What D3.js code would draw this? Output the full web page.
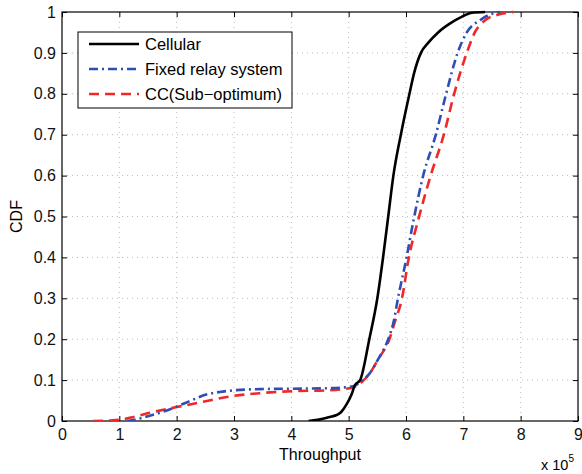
<!DOCTYPE html>
<html><head><meta charset="utf-8">
<script src="https://cdn.jsdelivr.net/npm/d3@7"></script>
<style>body{margin:0;background:#fff}svg{display:block}text{font-family:"Liberation Sans",Arial,sans-serif}</style>
</head><body>
<svg id="c" width="582" height="474"></svg>
<script>
// Throughput (x 10^5) and CDF values
const cellularX = [4.30,4.50,4.67,4.78,4.87,4.96,5.05,5.11,5.20,5.36,5.50,5.60,5.69,5.78,5.91,6.06,6.14,6.26,6.39,6.56,6.77,6.97,7.15,7.38];
const cellularY = [0.000,0.004,0.010,0.014,0.022,0.040,0.065,0.088,0.100,0.200,0.300,0.400,0.500,0.600,0.700,0.800,0.850,0.900,0.925,0.950,0.972,0.988,0.998,1.000];
const relayX = [1.13,1.30,1.53,1.75,2.00,2.25,2.50,2.75,3.00,3.45,4.03,4.62,5.08,5.20,5.37,5.51,5.69,5.78,5.86,6.01,6.13,6.30,6.52,6.70,6.90,7.06,7.29,7.45,7.64];
const relayY = [0.000,0.004,0.013,0.022,0.035,0.050,0.064,0.071,0.075,0.078,0.079,0.080,0.085,0.095,0.117,0.150,0.200,0.240,0.300,0.400,0.490,0.600,0.700,0.800,0.900,0.950,0.980,0.993,1.000];
const ccX = [0.54,0.80,1.01,1.25,1.53,2.00,2.46,2.98,3.45,4.03,4.62,5.08,5.20,5.37,5.51,5.71,5.80,5.93,6.05,6.21,6.43,6.66,6.84,7.06,7.20,7.38,7.60,7.87];
const ccY = [0.000,0.001,0.003,0.010,0.020,0.034,0.047,0.061,0.068,0.073,0.075,0.082,0.092,0.117,0.150,0.200,0.240,0.300,0.400,0.490,0.600,0.700,0.800,0.900,0.950,0.980,0.993,1.000];
const xTicks = [0,1,2,3,4,5,6,7,8,9];
const yTicks = [0,0.1,0.2,0.3,0.4,0.5,0.6,0.7,0.8,0.9,1];
const seriesNames = ["Cellular","Fixed relay system","CC(Sub\u2212optimum)"];
const seriesColors = ["#000000","#2e4db5","#f02828"];
const seriesDash = [null,"9,4,2,4","10,6"];

const svg = d3.select("#c");
const L=62,R=578,T=12,B=421;
const x = d3.scaleLinear().domain([0,9]).range([L,R]);
const y = d3.scaleLinear().domain([0,1]).range([B,T]);

// grid
const g = svg.append("g");
g.selectAll(".gx").data(xTicks.slice(1,-1)).enter().append("line")
 .attr("x1",d=>x(d)).attr("x2",d=>x(d)).attr("y1",T).attr("y2",B)
 .attr("stroke","#bbb").attr("stroke-width",1).attr("stroke-dasharray","1,4");
g.selectAll(".gy").data(yTicks.slice(1,-1)).enter().append("line")
 .attr("y1",d=>y(d)).attr("y2",d=>y(d)).attr("x1",L).attr("x2",R)
 .attr("stroke","#bbb").attr("stroke-width",1).attr("stroke-dasharray","1,4");

// axes
const fmtY = d=> d===0?"0":d===1?"1":d3.format(".1f")(d);
const xAxis = d3.axisBottom(x).tickValues(xTicks).tickSize(-5).tickPadding(8).tickFormat(d3.format("d"));
const yAxis = d3.axisLeft(y).tickValues(yTicks).tickSize(-5).tickPadding(6).tickFormat(fmtY);
const ax = svg.append("g").attr("transform",`translate(0,${B})`).call(xAxis);
const ay = svg.append("g").attr("transform",`translate(${L},0)`).call(yAxis);
const axT = svg.append("g").attr("transform",`translate(0,${T})`).call(d3.axisTop(x).tickValues(xTicks).tickSize(-5).tickFormat(""));
const ayR = svg.append("g").attr("transform",`translate(${R},0)`).call(d3.axisRight(y).tickValues(yTicks).tickSize(-5).tickFormat(""));
[ax,ay,axT,ayR].forEach(a=>{a.select(".domain").remove();a.selectAll("line").attr("stroke","#000");
  a.selectAll("text").attr("font-size",16).attr("fill","#111").attr("font-family","Liberation Sans, Arial, sans-serif");});
svg.append("rect").attr("x",L).attr("y",T).attr("width",R-L).attr("height",B-T)
 .attr("fill","none").attr("stroke","#000").attr("stroke-width",1.2);

// lines
const line = d3.line().x(d=>x(d[0])).y(d=>y(d[1])).curve(d3.curveMonotoneX);
const data = [d3.zip(cellularX,cellularY), d3.zip(relayX,relayY), d3.zip(ccX,ccY)];
svg.append("clipPath").attr("id","cp").append("rect").attr("x",L).attr("y",T-2).attr("width",R-L).attr("height",B-T+2);
[2,1,0].forEach(i=>{
  svg.append("path").datum(data[i]).attr("d",line).attr("fill","none")
   .attr("stroke",seriesColors[i]).attr("stroke-width",2.6)
   .attr("stroke-dasharray",seriesDash[i]).attr("clip-path","url(#cp)");
});

// labels
svg.append("text").attr("x",(L+R)/2).attr("y",460).attr("text-anchor","middle").attr("font-size",16).text("Throughput");
svg.append("text").attr("transform",`translate(22,${(T+B)/2}) rotate(-90)`).attr("text-anchor","middle").attr("font-size",16).text("CDF");
const ex = svg.append("text").attr("x",541).attr("y",470).attr("font-size",14.5);
ex.append("tspan").text("x 10");
ex.append("tspan").attr("dy",-8).attr("font-size",10).text("5");

// legend
const lg = svg.append("g");
lg.append("rect").attr("x",78).attr("y",32).attr("width",214).attr("height",76).attr("fill","#fff").attr("stroke","#000").attr("stroke-width",1);
seriesNames.forEach((n,i)=>{
  const yy = 44 + i*25;
  lg.append("line").attr("x1",89).attr("x2",139).attr("y1",yy).attr("y2",yy)
   .attr("stroke",seriesColors[i]).attr("stroke-width",2.6).attr("stroke-dasharray",seriesDash[i]);
  lg.append("text").attr("x",145).attr("y",yy+6).attr("font-size",16.5).text(n);
});
</script>
</body></html>
